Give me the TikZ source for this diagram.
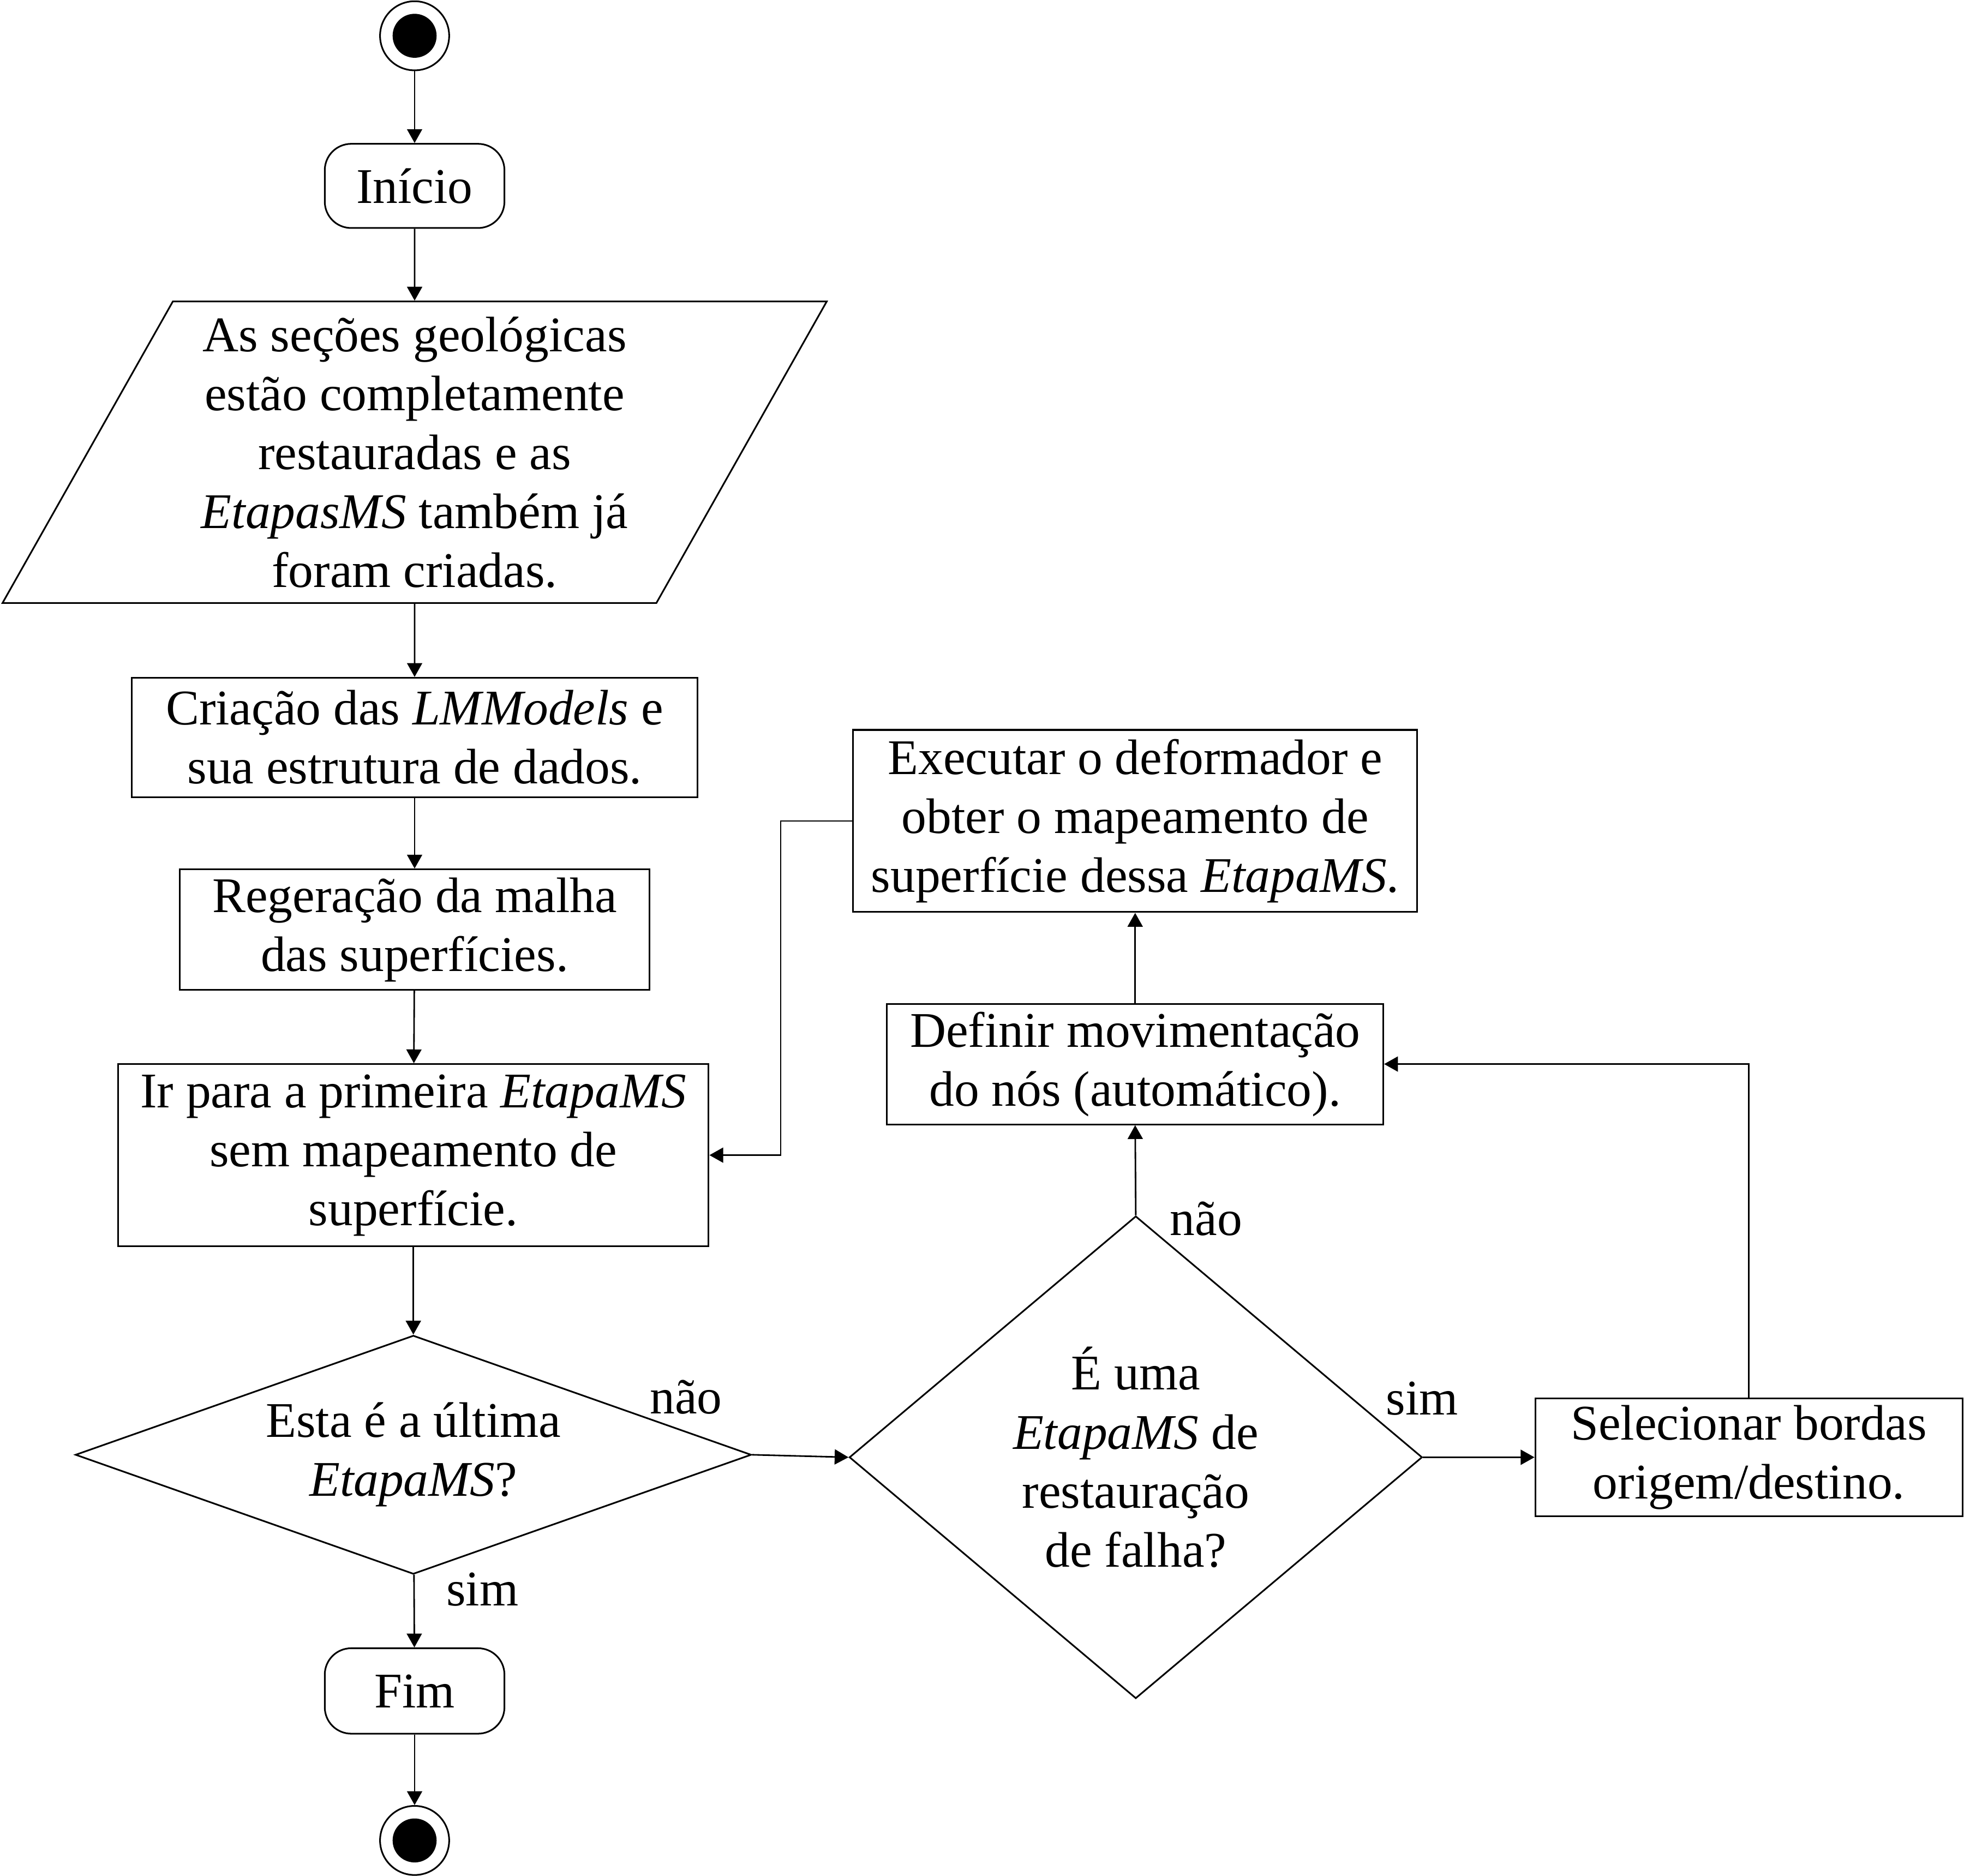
\documentclass[tikz,border=0pt]{standalone}
\usepackage{fontspec}
\setmainfont{Liberation Serif}
\usepackage{tikz}
\usetikzlibrary{shapes.geometric, arrows.meta}
\tikzstyle{caixa} = [rectangle, draw=black, line width=0.75pt, align=center, inner sep=0pt]
\tikzstyle{arredondado} = [rectangle, rounded corners=0.42cm, draw=black, line width=0.75pt, minimum width=2.86cm, minimum height=1.34cm]
\tikzstyle{entrada} = [trapezium, trapezium left angle=61, trapezium right angle=119, trapezium stretches=true, draw=black, line width=0.75pt, align=center, inner sep=0pt]
\tikzstyle{decisao} = [diamond, draw=black, line width=0.75pt, align=center, inner sep=0pt]
\tikzstyle{estado} = [circle, draw=black, line width=0.75pt, minimum size=1.1cm, inner sep=0pt]
\tikzstyle{ponto} = [circle, fill=black, minimum size=0.7cm, inner sep=0pt]
\tikzstyle{seta} = [-{Triangle[length=0.22cm, width=0.24cm]}, line width=0.7pt]
\tikzstyle{rotulo} = [inner sep=0pt]

\begin{document}
\begin{tikzpicture}[every node/.append style={font=\fontsize{22.6}{26.7}\selectfont}]
    \useasboundingbox (0,0) rectangle (31.36,-29.86);

    %% estado inicial
    \node (ini) [estado] at (6.60,-0.57) {};
    \node (inidot) [ponto] at (6.60,-0.57) {};

    %% inicio
    \node (inicio) [arredondado] at (6.60,-2.96) {Início};
    \draw[seta] (ini) -- (inicio);

    %% entrada
    \node (secoes) [entrada, minimum width=13.18cm, minimum height=4.8cm] at (6.60,-7.20) {As seções geológicas\\estão completamente\\restauradas e as\\\textit{EtapasMS} também já\\foram criadas.};
    \draw[seta] (inicio) -- (secoes);

    %% criacao das LMModels
    \node (criacao) [caixa, minimum width=9.0cm, minimum height=1.9cm] at (6.60,-11.74) {Criação das \textit{LMModels} e\\sua estrutura de dados.};
    \draw[seta] (secoes) -- (criacao);

    %% regeracao
    \node (regeracao) [caixa, minimum width=7.48cm, minimum height=1.92cm] at (6.60,-14.80) {Regeração da malha\\das superfícies.};
    \draw[seta] (criacao) -- (regeracao);

    %% primeira EtapaMS
    \node (primeira) [caixa, minimum width=9.40cm, minimum height=2.90cm] at (6.58,-18.39) {Ir para a primeira \textit{EtapaMS}\\sem mapeamento de\\superfície.};
    \draw[seta] (regeracao) -- (primeira);

    %% ultima etapa ?
    \node (ultima) [decisao, minimum width=10.76cm, minimum height=3.80cm, aspect=2.83] at (6.58,-23.16) {Esta é a última\\\textit{EtapaMS}?};
    \draw[seta] (primeira) -- (ultima);

    %% fim
    \node (fim) [arredondado, minimum height=1.36cm] at (6.60,-26.92) {Fim};
    \draw[seta] (ultima) -- (fim);
    \node (simA) [rotulo] at (7.68,-25.30) {sim};

    %% estado final
    \node (final) [estado] at (6.60,-29.30) {};
    \node (finaldot) [ponto] at (6.60,-29.30) {};
    \draw[seta] (fim) -- (final);

    %% restauracao de falha ?
    \node (falha) [decisao, minimum width=9.12cm, minimum height=7.68cm, aspect=1.19] at (18.08,-23.20) {É uma\\\textit{EtapaMS} de\\restauração\\de falha?};
    \draw[seta] (ultima.east) -- (falha.west);
    \node (naoA) [rotulo] at (10.92,-22.24) {não};

    %% selecionar bordas
    \node (bordas) [caixa, minimum width=6.80cm, minimum height=1.88cm] at (27.84,-23.20) {Selecionar bordas\\origem/destino.};
    \draw[seta] (falha.east) -- (bordas.west);
    \node (simB) [rotulo] at (22.64,-22.26) {sim};

    %% movimentacao
    \node (movimento) [caixa, minimum width=7.90cm, minimum height=1.92cm] at (18.07,-16.94) {Definir movimentação\\do nós (automático).};
    \draw[seta] (falha.north) -- (movimento.south);
    \node (naoB) [rotulo] at (19.20,-19.40) {não};
    \draw[seta] (bordas.north) |- (movimento.east);

    %% deformador
    \node (deformador) [caixa, minimum width=8.98cm, minimum height=2.90cm] at (18.07,-13.07) {Executar o deformador e\\obter o mapeamento de\\superfície dessa \textit{EtapaMS}.};
    \draw[seta] (movimento) -- (deformador);
    \draw[seta] (deformador.west) -- ++(-1.14,0) |- (primeira.east);
\end{tikzpicture}
\end{document}
